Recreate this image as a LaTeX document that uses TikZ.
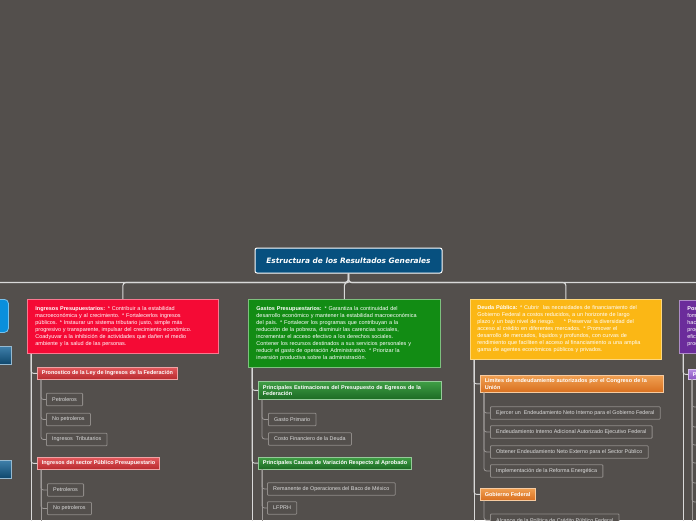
\documentclass[tikz,border=0pt]{standalone}
\usepackage{fontspec}
\setmainfont{Liberation Sans}
\newfontfamily\titlefont{DejaVu Sans}

\definecolor{fondo}{HTML}{534F4C}
\definecolor{raizazul}{HTML}{07507F}
\definecolor{lineaclara}{HTML}{D9D9D9}
\definecolor{lineagris}{HTML}{9C9896}
\definecolor{rojo}{HTML}{F50A35}
\definecolor{verde}{HTML}{128C14}
\definecolor{ambar}{HTML}{FBB715}
\definecolor{morado}{HTML}{6B2C9B}
\definecolor{azulcat}{HTML}{0A8FDC}
\definecolor{bordehoja}{HTML}{8F8B88}
\definecolor{textohoja}{HTML}{DDDDDD}
\definecolor{rojoA}{HTML}{E2575B}
\definecolor{rojoB}{HTML}{B82A2E}
\definecolor{verdeA}{HTML}{3F9E45}
\definecolor{verdeB}{HTML}{1C6B24}
\definecolor{naranjaA}{HTML}{F0A052}
\definecolor{naranjaB}{HTML}{D9701F}
\definecolor{moradoA}{HTML}{B58CE0}
\definecolor{moradoB}{HTML}{8A55C2}
\definecolor{azulA}{HTML}{3F7FAA}
\definecolor{azulB}{HTML}{0E476C}

\tikzset{
  raiz/.style={draw=white, line width=1pt, rounded corners=2pt, fill=raizazul, text=white,
    font=\titlefont\bfseries\itshape\fontsize{7.4}{9}\selectfont,
    minimum width=187pt, minimum height=25pt},
  tema/.style={anchor=north west, fill=#1, draw=#1!55!white, line width=0.8pt,
    inner xsep=8pt, inner ysep=0pt, align=left, text=white,
    font=\fontsize{5.5}{7}\selectfont},
  cabeza/.style 2 args={anchor=north west, top color=#1, bottom color=#2, draw=#1!55!white,
    line width=0.7pt, inner xsep=4.5pt, inner ysep=0pt, align=left, text=white,
    font=\bfseries\fontsize{5.5}{6.5}\selectfont},
  hoja/.style={anchor=west, fill=fondo, draw=bordehoja, line width=0.8pt, rounded corners=0.8pt,
    inner xsep=5.8pt, inner ysep=0pt, minimum height=12.5pt, text=textohoja,
    font=\fontsize{5.4}{7}\selectfont},
  tronco/.style={draw=lineaclara, line width=1.1pt, rounded corners=3pt},
  rama/.style={draw=lineaclara, line width=0.9pt, rounded corners=2.5pt},
  subrama/.style={draw=lineagris, line width=0.8pt, rounded corners=2.5pt},
}

\begin{document}
\begin{tikzpicture}[x=1pt,y=-1pt]
\useasboundingbox (0,0) rectangle (696,520);
\clip (0,0) rectangle (696,520);
\fill[fondo] (0,0) rectangle (696,520);

% raiz
\node[raiz] (raiz) at (348.5,260.5) {Estructura de los Resultados Generales};

% temas
\node[tema=azulcat, text width=175pt, minimum height=33pt, rounded corners=4pt] (azul) at (-183,299) {};
\node[tema=rojo, text width=175pt, minimum height=54pt] (ingresos) at (27,299)
  {\textbf{Ingresos Presupuestarios:} * Contribuir a la estabilidad\\
   macroeconómica y al crecimiento. * Fortalecerlos ingresos\\
   públicos. * Instaurar un sistema tributario justo, simple más\\
   progresivo y transparente, impulsar del crecimiento económico.\\
   * Coadyuvar a la inhibición de actividades que dañen el medio\\
   ambiente y la salud de las personas.};
\node[tema=verde, text width=176pt, minimum height=68pt, inner xsep=8pt] (gastos) at (248,299)
  {\textbf{Gastos Presupuestarios:} * Garantiza la continuidad del\\
   desarrollo económico y mantener la estabilidad macroeconómica\\
   del país. * Fortalecer los programas que contribuyan a la\\
   reducción de la pobreza, disminuir las carencias sociales,\\
   incrementar el acceso efectivo a los derechos sociales.\\
   *Contener los recursos destinados a sus servicios personales y\\
   reducir el gasto de operación Administrativo. * Priorizar la\\
   inversión productiva sobre la administración.};
\node[tema=ambar, text width=177pt, inner xsep=7pt, minimum height=60pt] (deuda) at (470,299)
  {\textbf{Deuda Pública:} * Cubrir\ \ las necesidades de financiamiento del\\
   Gobierno Federal a costos reducidos, a un horizonte de largo\\
   plazo y un bajo nivel de riesgo.\quad\ \ * Preservar la diversidad del\\
   acceso al crédito en diferentes mercados. * Promover el\\
   desarrollo de mercados, líquidos y profundos, con curvas de\\
   rendimiento que faciliten el acceso al financiamiento a una amplia\\
   gama de agentes económicos públicos y privados.};
\node[tema=morado, text width=175pt, minimum height=53pt] (postura) at (679,300)
  {\textbf{Postura Fiscal:} * Mantener\\
   fomentar las finanzas\\
   hacendaria\\
   programas\\
   eficiencia\\
   productividad};

\foreach \c in {azul,ingresos,gastos,deuda,postura}
  \draw[tronco] (raiz.south) -- ++(0,9) -| (\c.north);

% azul
\node[cabeza={azulA}{azulB}, text width=175pt, minimum height=18pt] (azul1) at (-173,346) {};
\node[cabeza={azulA}{azulB}, text width=175pt, minimum height=18pt] (azul2) at (-173,460) {};
\foreach \h in {azul1,azul2}
  \draw[rama] ([xshift=4pt]azul.south west) |- (\h.west);

% ingresos
\node[cabeza={rojoA}{rojoB}, minimum height=12pt] (pron) at (37,367)
  {Pronostico de la Ley de Ingresos de la Federación};
\node[hoja] (pron1) at (46,399.5) {Petroleros};
\node[hoja] (pron2) at (46,419.5) {No petroleros};
\node[hoja] (pron3) at (46,439.5) {Ingresos\ \ Tributarios};
\node[cabeza={rojoA}{rojoB}, minimum height=12pt] (sect) at (37,457)
  {Ingresos del sector Público Presupuestario};
\node[hoja] (sect1) at (47,490) {Petroleros};
\node[hoja] (sect2) at (47,508.5) {No petroleros};
\coordinate (massect) at (41,530);
\coordinate (masingresos) at (31,530);

\foreach \h in {pron,sect}
  \draw[rama] ([xshift=4pt]ingresos.south west) |- (\h.west);
\draw[rama] ([xshift=4pt]ingresos.south west) -- (masingresos);
\foreach \h in {pron1,pron2,pron3}
  \draw[subrama] ([xshift=4pt]pron.south west) |- (\h.west);
\foreach \h in {sect1,sect2}
  \draw[subrama] ([xshift=4pt]sect.south west) |- (\h.west);
\draw[subrama] ([xshift=4pt]sect.south west) -- (massect);

% gastos
\node[cabeza={verdeA}{verdeB}, text width=174pt, minimum height=18pt] (estim) at (258,381)
  {Principales Estimaciones del Presupuesto de Egresos de la\\ Federación};
\node[hoja] (estim1) at (268,419.5) {Gasto Primario};
\node[hoja] (estim2) at (268,439) {Costo Financiero de la Deuda};
\node[cabeza={verdeA}{verdeB}, minimum height=11.5pt] (caus) at (258,457)
  {Principales Causas de Variación Respecto al Aprobado};
\node[hoja] (caus1) at (267,489) {Remanente de Operaciones del Baco de México};
\node[hoja] (caus2) at (267,508) {LFPRH};
\coordinate (mascaus) at (262,530);
\coordinate (masgastos) at (252,530);

\foreach \h in {estim,caus}
  \draw[rama] ([xshift=4pt]gastos.south west) |- (\h.west);
\draw[rama] ([xshift=4pt]gastos.south west) -- (masgastos);
\foreach \h in {estim1,estim2}
  \draw[subrama] ([xshift=4pt]estim.south west) |- (\h.west);
\foreach \h in {caus1,caus2}
  \draw[subrama] ([xshift=4pt]caus.south west) |- (\h.west);
\draw[subrama] ([xshift=4pt]caus.south west) -- (mascaus);

% deuda
\node[cabeza={naranjaA}{naranjaB}, text width=174pt, minimum height=17pt] (lim) at (480,375)
  {Limites de endeudamiento autorizados por el Congreso de la\\ Unión};
\node[hoja] (lim1) at (490,413) {Ejercer un\ \ Endeudamiento Neto Interno para el Gobierno Federal};
\node[hoja] (lim2) at (490,432) {Endeudamiento Interno Adicional Autorizado Ejecutivo Federal};
\node[hoja] (lim3) at (490,452) {Obtener Endeudamiento Neto Externo para el Sector Público};
\node[hoja] (lim4) at (490,471) {Implementación de la Reforma Energética};
\node[cabeza={naranjaA}{naranjaB}, minimum height=12pt] (gob) at (480,488) {Gobierno Federal};
\node[hoja] (gob1) at (490,520.3) {Alcance de la Política de Crédito Público Federal};
\coordinate (masdeuda) at (474,530);

\foreach \h in {lim,gob}
  \draw[rama] ([xshift=4pt]deuda.south west) |- (\h.west);
\draw[rama] ([xshift=4pt]deuda.south west) -- (masdeuda);
\foreach \h in {lim1,lim2,lim3,lim4}
  \draw[subrama] ([xshift=4pt]lim.south west) |- (\h.west);
\draw[subrama] ([xshift=4pt]gob.south west) |- (gob1.west);

% postura
\node[cabeza={moradoA}{moradoB}, text width=111pt, minimum height=10pt] (psub) at (688,369) {P};
\coordinate (maspostura) at (683,530);
\draw[rama] ([xshift=4pt]postura.south west) |- (psub.west);
\draw[rama] ([xshift=4pt]postura.south west) -- (maspostura);
\foreach \y [count=\i] in {407,427,445,463,483,502}
  \coordinate (psub\i) at (700,\y);
\foreach \i in {1,...,6}
  \draw[subrama] ([xshift=4pt]psub.south west) |- (psub\i);
\draw[subrama] ([xshift=4pt]psub.south west) -- ++(0,160);
\end{tikzpicture}
\end{document}
